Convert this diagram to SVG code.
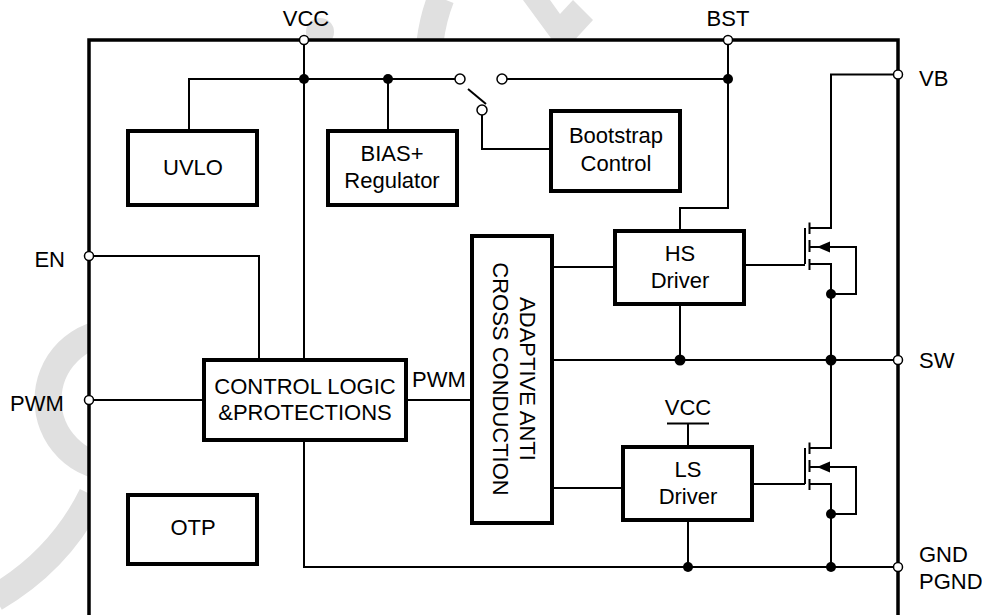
<svg xmlns="http://www.w3.org/2000/svg" width="982" height="615" viewBox="0 0 982 615">
<style>
.wm{fill:none;stroke:#e0e0e0;stroke-width:27}
.wmf{fill:#e0e0e0}
.frame{fill:#fff;stroke:#000;stroke-width:3.5}
.box{fill:#fff;stroke:#000;stroke-width:4}
.w{fill:none;stroke:#000;stroke-width:2}
.dot{fill:#000}
.pin{fill:#fff;stroke:#000;stroke-width:1.5}
.t{font-family:"Liberation Sans",Arial,sans-serif;font-size:22px;fill:#000}
.c{text-anchor:middle}
.e{text-anchor:end}
</style>
<rect width="982" height="615" fill="#fff"/>
<g id="watermark">
<circle class="wm" cx="116" cy="400" r="68"/>
<path class="wm" d="M92 495 Q60 560 -5 598"/>
<circle class="wmf" cx="320" cy="32" r="14"/>
<path class="wm" d="M441 -2 Q433 18 430 42" stroke-width="25"/>
<polygon class="wmf" points="523,0 550,0 560,14 573,0 593,20 570,45 556,45"/>
</g>
<rect id="frame" class="frame" x="89" y="40" width="809" height="600"/>
<g id="connectors">
<path class="w" d="M304 40 V360"/>
<path class="w" d="M304 440 V567 H898"/>
<path class="w" d="M189 131 V79 H455.5"/>
<path class="w" d="M388 79 V131"/>
<path class="w" d="M506.5 79 H728"/>
<path class="w" d="M728 40 V208 H680 V231"/>
<path class="w" d="M468 89 L486 104"/>
<path class="w" d="M482 115 V149 H551"/>
<path class="w" d="M89 256 H259 V360"/>
<path class="w" d="M89 400 H204"/>
<path class="w" d="M406 400 H472"/>
<path class="w" d="M552 267 H615"/>
<path class="w" d="M552 488 H623"/>
<path class="w" d="M552 360 H898"/>
<path class="w" d="M680 304 V360"/>
<path class="w" d="M688 520 V567"/>
<path class="w" d="M667 423.5 H709" stroke-width="4"/>
<path class="w" d="M688 423.5 V447"/>
<path class="w" d="M744 265 H805"/>
<path class="w" d="M752 484 H805"/>
<path class="w" d="M898 74.5 H831 V228 H809"/>
<path class="w" d="M809 264 H831 V448 H809"/>
<path class="w" d="M809 484 H831 V567"/>
<path class="w" d="M809 247 H856 V294 H831"/>
<path class="w" d="M809 467 H856 V514 H831"/>
</g>
<g id="hs_fet">
<path class="w" d="M805 228 V264 M809.5 222.5 V234 M809.5 240 V252 M809.5 259 V270"/>
<polygon class="dot" points="817,247 830,241.5 830,252.5"/>
</g>
<g id="ls_fet">
<path class="w" d="M805 448 V484 M809.5 442.5 V454 M809.5 460 V472 M809.5 479 V490"/>
<polygon class="dot" points="817,467 830,461.5 830,472.5"/>
</g>
<g id="switch">
<circle class="pin" cx="460" cy="79" r="5"/>
<circle class="pin" cx="502" cy="79" r="5"/>
<circle class="pin" cx="482" cy="110" r="5"/>
</g>
<g id="dots">
<circle class="dot" cx="304" cy="79" r="5"/>
<circle class="dot" cx="388" cy="79" r="5"/>
<circle class="dot" cx="728" cy="79" r="5"/>
<circle class="dot" cx="680" cy="360" r="5.5"/>
<circle class="dot" cx="831" cy="360" r="5.5"/>
<circle class="dot" cx="831" cy="294" r="5"/>
<circle class="dot" cx="831" cy="514" r="5"/>
<circle class="dot" cx="688" cy="567" r="5"/>
<circle class="dot" cx="831" cy="567" r="5"/>
</g>
<g id="pins">
<circle class="pin" cx="304" cy="40" r="4.5"/>
<circle class="pin" cx="728" cy="40" r="4.5"/>
<circle class="pin" cx="89" cy="256" r="4.5"/>
<circle class="pin" cx="89" cy="400" r="4.5"/>
<circle class="pin" cx="898" cy="74.5" r="4.5"/>
<circle class="pin" cx="898" cy="360" r="4.5"/>
<circle class="pin" cx="898" cy="567" r="4.5"/>
<text class="t c" x="306" y="26">VCC</text>
<text class="t c" x="728" y="26">BST</text>
<text class="t" x="919" y="85.5">VB</text>
<text class="t" x="919" y="368">SW</text>
<text class="t" x="919" y="562">GND</text>
<text class="t" x="919" y="589">PGND</text>
<text class="t e" x="65" y="267">EN</text>
<text class="t" x="10" y="411">PWM</text>
</g>
<g id="uvlo"><rect class="box" x="128" y="131" width="129" height="74"/><text class="t c" x="193" y="175">UVLO</text></g>
<g id="bias"><rect class="box" x="328" y="131" width="129" height="74"/><text class="t c" x="392" y="161">BIAS+</text><text class="t c" x="392" y="188">Regulator</text></g>
<g id="bootstrap"><rect class="box" x="551" y="111" width="129" height="80"/><text class="t c" x="616" y="143">Bootstrap</text><text class="t c" x="616" y="171">Control</text></g>
<g id="control"><rect class="box" x="204" y="360" width="202" height="80"/><text class="t c" x="305" y="394">CONTROL LOGIC</text><text class="t c" x="305" y="420">&amp;PROTECTIONS</text><text class="t" x="412" y="387">PWM</text></g>
<g id="otp"><rect class="box" x="128" y="495" width="129" height="69"/><text class="t c" x="193" y="535">OTP</text></g>
<g id="adaptive"><rect class="box" x="472" y="236" width="80" height="287"/><g transform="translate(514.5,379) rotate(90)"><text class="t c" x="0" y="-5.6">ADAPTIVE ANTI</text><text class="t c" x="0" y="21.4">CROSS CONDUCTION</text></g></g>
<g id="hs_driver"><rect class="box" x="615" y="231" width="129" height="73"/><text class="t c" x="680" y="261">HS</text><text class="t c" x="680" y="288">Driver</text></g>
<g id="ls_driver"><rect class="box" x="623" y="447" width="129" height="73"/><text class="t c" x="688" y="476.5">LS</text><text class="t c" x="688" y="504">Driver</text><text class="t c" x="688" y="415">VCC</text></g>
</svg>
